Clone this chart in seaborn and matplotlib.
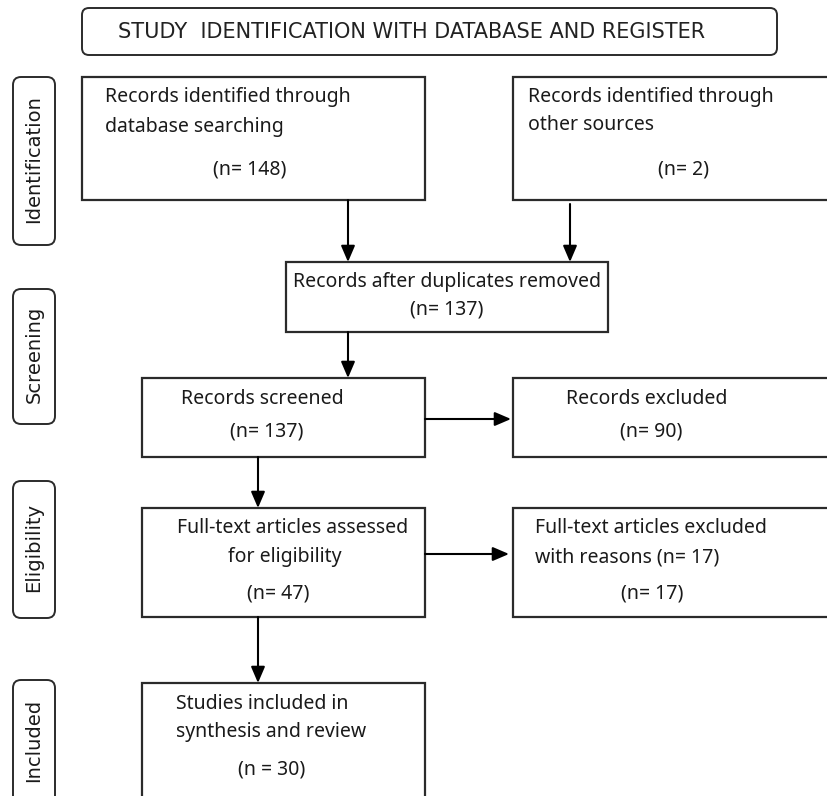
# prisma_flow.py
# PRISMA style flow diagram of the study selection

import matplotlib
matplotlib.use("Agg")
import matplotlib.pyplot as plt
from matplotlib.patches import Rectangle, FancyBboxPatch
import seaborn as sns

# Diagram content
header = "STUDY  IDENTIFICATION WITH DATABASE AND REGISTER"
stages = ["Identification", "Screening", "Eligibility", "Included"]
box_lines = [
    ["Records identified through", "database searching"],
    ["Records identified through", "other sources"],
    ["Records after duplicates removed"],
    ["Records screened"],
    ["Records excluded"],
    ["Full-text articles assessed", "for eligibility"],
    ["Full-text articles excluded", "with reasons (n= 17)"],
    ["Studies included in", "synthesis and review"],
]
counts = [148, 2, 137, 137, 90, 47, 17, 30]
count_fmt = ["(n= {})", "(n= {})", "(n= {})", "(n= {})", "(n= {})", "(n= {})", "(n= {})", "(n = {})"]

# Layout in pixel coordinates (x0, y0, x1, y1)
box_xy = [
    (82, 77, 425, 200),
    (513, 77, 840, 200),
    (286, 262, 608, 332),
    (142, 378, 425, 457),
    (513, 378, 840, 457),
    (142, 508, 425, 617),
    (513, 508, 840, 617),
    (142, 683, 425, 800),
]
# per line (x, alignment, y), then the count position (x, y)
line_pos = [
    [(105, "left", 97), (105, "left", 127)],
    [(528, "left", 97), (528, "left", 125)],
    [(447, "center", 282)],
    [(181, "left", 399)],
    [(566, "left", 399)],
    [(177, "left", 528), (285, "center", 557)],
    [(535, "left", 528), (535, "left", 557)],
    [(176, "left", 704), (176, "left", 732)],
]
count_pos = [(250, 170), (683, 170), (447, 309), (267, 432), (651, 432),
             (278, 593), (652, 593), (272, 769)]
stage_y = [(77, 245), (289, 424), (481, 618), (680, 805)]
arrows = [
    ((348, 200), (348, 262)),
    ((570, 204), (570, 262)),
    ((348, 332), (348, 378)),
    ((425, 419), (511, 419)),
    ((258, 457), (258, 508)),
    ((425, 554), (509, 554)),
    ((258, 617), (258, 683)),
]

sns.set_theme(style="white")
plt.rcParams["font.family"] = ["Noto Sans", "DejaVu Sans"]

W, H = 827, 796
fig = plt.figure(figsize=(W / 100, H / 100), dpi=100)
ax = fig.add_axes([0, 0, 1, 1])
ax.set_xlim(0, W)
ax.set_ylim(H, 0)
ax.axis("off")

edge = "#2b2b2b"
txt = "#1a1a1a"

# header
ax.add_patch(FancyBboxPatch((82, 8), 695, 47, boxstyle="round,pad=0,rounding_size=7",
                            fc="white", ec=edge, lw=1.4))
ax.text(118, 31.5, header, fontsize=15, family="DejaVu Sans", color="#222222",
        ha="left", va="center")

# stage labels on the left
for name, (y0, y1) in zip(stages, stage_y):
    ax.add_patch(FancyBboxPatch((13, y0), 42, y1 - y0, boxstyle="round,pad=0,rounding_size=8",
                                fc="white", ec=edge, lw=1.4))
    ax.text(34, (y0 + y1) / 2 - 2, name, rotation=90, fontsize=14, family="DejaVu Sans",
            color=txt, ha="center", va="center")

# flow boxes
for lines, n, fmt, (x0, y0, x1, y1), lpos, (cx, cy) in zip(
        box_lines, counts, count_fmt, box_xy, line_pos, count_pos):
    ax.add_patch(Rectangle((x0, y0), x1 - x0, y1 - y0, fc="white", ec=edge, lw=1.6))
    for line, (tx, ha, ty) in zip(lines, lpos):
        ax.text(tx, ty, line, fontsize=14, color=txt, ha=ha, va="center")
    ax.text(cx, cy, fmt.format(n), fontsize=14, color=txt, ha="center", va="center")

# arrows
for start, end in arrows:
    ax.annotate("", xy=end, xytext=start,
                arrowprops=dict(arrowstyle="-|>,head_length=0.7,head_width=0.3",
                                color="black", lw=1.5, shrinkA=0, shrinkB=0,
                                mutation_scale=14))

fig.savefig("out.png", dpi=100, facecolor="white")
